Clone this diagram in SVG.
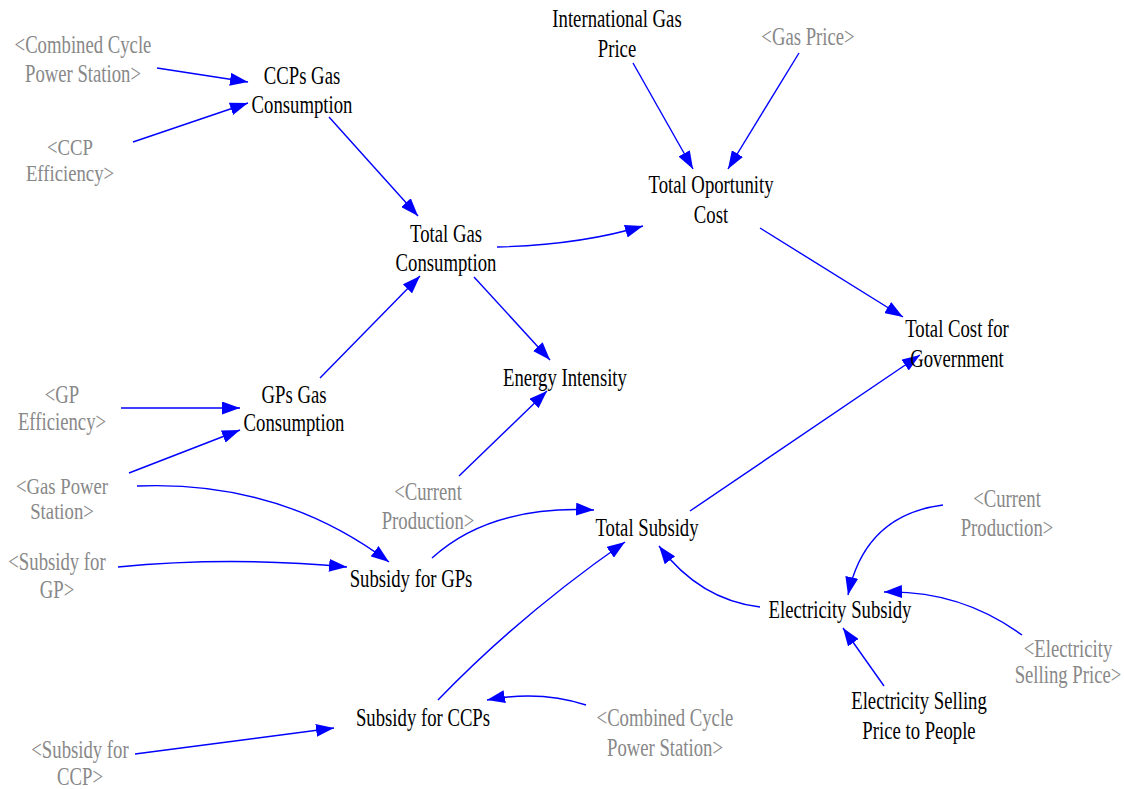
<svg xmlns="http://www.w3.org/2000/svg" width="1124" height="789" viewBox="0 0 1124 789">
  <defs>
    <marker id="arrow" markerUnits="userSpaceOnUse" markerWidth="18" markerHeight="13" refX="18" refY="6.5" orient="auto">
      <path d="M0,0 L18,6.5 L0,13 z" fill="#0000ff"/>
    </marker>
  </defs>
  <style>
    text { font-family: "Liberation Serif", Tinos, "Times New Roman", "DejaVu Serif", "Noto Serif", serif; font-size: 26px; text-anchor: middle; dominant-baseline: central; }
    .tight text { font-size: 24px; }
    .var { fill: #000000; }
    .shadow { fill: #888888; }
    .link { fill: none; stroke: #0000ff; stroke-width: 1.4; marker-end: url(#arrow); }
  </style>
  <rect width="1124" height="789" fill="#ffffff"/>

  <!-- causal links -->
  <g id="connectors">
    <path class="link" d="M157,68 L248,82"/>
    <path class="link" d="M133,142 L248,103"/>
    <path class="link" d="M329,117 L418,216"/>
    <path class="link" d="M633,63 L693,169"/>
    <path class="link" d="M799,53 L728,169"/>
    <path class="link" d="M497,247 Q580,245 643,226"/>
    <path class="link" d="M760,228 L903,317"/>
    <path class="link" d="M474,277 L550,360"/>
    <path class="link" d="M320,378 L420,276"/>
    <path class="link" d="M121,408 L240,408"/>
    <path class="link" d="M129,473 L240,430"/>
    <path class="link" d="M459,476 L547,391"/>
    <path class="link" d="M137,486 Q280,480 389,562"/>
    <path class="link" d="M118,567 Q230,556 347,567"/>
    <path class="link" d="M432,558 Q490,505 594,510"/>
    <path class="link" d="M690,511 L920,355"/>
    <path class="link" d="M438,700 Q520,615 625,542"/>
    <path class="link" d="M760,607 Q700,600 659,546"/>
    <path class="link" d="M943,505 Q865,515 848,595"/>
    <path class="link" d="M1022,635 Q960,590 884,592"/>
    <path class="link" d="M884,686 L843,628"/>
    <path class="link" d="M586,705 Q540,690 487,700"/>
    <path class="link" d="M135,754 L334,728"/>
  </g>

  <!-- labels use a narrow Times face: each node is centred at its x and squeezed horizontally -->
  <!-- shadow variables (grey) -->
  <g id="ccps-station-top" transform="matrix(0.72 0 0 1 83 0)"><text class="shadow" x="0" y="44">&lt;Combined Cycle</text><text class="shadow" x="0" y="73">Power Station&gt;</text></g>
  <g id="ccp-efficiency" class="tight" transform="matrix(0.78 0 0 1 70 0)"><text class="shadow" x="0" y="147">&lt;CCP</text><text class="shadow" x="0" y="173">Efficiency&gt;</text></g>
  <g id="gas-price" transform="matrix(0.72 0 0 1 808 0)"><text class="shadow" x="0" y="36">&lt;Gas Price&gt;</text></g>
  <g id="gp-efficiency" transform="matrix(0.72 0 0 1 62 0)"><text class="shadow" x="0" y="394">&lt;GP</text><text class="shadow" x="0" y="421">Efficiency&gt;</text></g>
  <g id="gas-power-station" class="tight" transform="matrix(0.78 0 0 1 62 0)"><text class="shadow" x="0" y="486">&lt;Gas Power</text><text class="shadow" x="0" y="511">Station&gt;</text></g>
  <g id="current-production-left" transform="matrix(0.72 0 0 1 428 0)"><text class="shadow" x="0" y="491">&lt;Current</text><text class="shadow" x="0" y="520">Production&gt;</text></g>
  <g id="current-production-right" transform="matrix(0.72 0 0 1 1007 0)"><text class="shadow" x="0" y="498">&lt;Current</text><text class="shadow" x="0" y="527">Production&gt;</text></g>
  <g id="subsidy-for-gp" transform="matrix(0.72 0 0 1 57 0)"><text class="shadow" x="0" y="561">&lt;Subsidy for</text><text class="shadow" x="0" y="589">GP&gt;</text></g>
  <g id="electricity-selling-price" transform="matrix(0.72 0 0 1 1068 0)"><text class="shadow" x="0" y="648">&lt;Electricity</text><text class="shadow" x="0" y="674">Selling Price&gt;</text></g>
  <g id="ccps-station-bottom" transform="matrix(0.72 0 0 1 665 0)"><text class="shadow" x="0" y="717">&lt;Combined Cycle</text><text class="shadow" x="0" y="747">Power Station&gt;</text></g>
  <g id="subsidy-for-ccp" transform="matrix(0.72 0 0 1 80 0)"><text class="shadow" x="0" y="749">&lt;Subsidy for</text><text class="shadow" x="0" y="776">CCP&gt;</text></g>

  <!-- model variables -->
  <g id="ccps-gas-consumption" transform="matrix(0.72 0 0 1 302 0)"><text class="var" x="0" y="75">CCPs Gas</text><text class="var" x="0" y="104">Consumption</text></g>
  <g id="international-gas-price" transform="matrix(0.72 0 0 1 617 0)"><text class="var" x="0" y="18">International Gas</text><text class="var" x="0" y="48">Price</text></g>
  <g id="total-oportunity-cost" transform="matrix(0.72 0 0 1 711 0)"><text class="var" x="0" y="184">Total Oportunity</text><text class="var" x="0" y="214">Cost</text></g>
  <g id="total-gas-consumption" transform="matrix(0.72 0 0 1 446 0)"><text class="var" x="0" y="233">Total Gas</text><text class="var" x="0" y="262">Consumption</text></g>
  <g id="total-cost-government" transform="matrix(0.72 0 0 1 957 0)"><text class="var" x="0" y="328">Total Cost for</text><text class="var" x="0" y="358">Government</text></g>
  <g id="energy-intensity" transform="matrix(0.72 0 0 1 565 0)"><text class="var" x="0" y="377">Energy Intensity</text></g>
  <g id="gps-gas-consumption" transform="matrix(0.72 0 0 1 294 0)"><text class="var" x="0" y="394">GPs Gas</text><text class="var" x="0" y="422">Consumption</text></g>
  <g id="total-subsidy" transform="matrix(0.72 0 0 1 647 0)"><text class="var" x="0" y="527">Total Subsidy</text></g>
  <g id="subsidy-for-gps" transform="matrix(0.72 0 0 1 411 0)"><text class="var" x="0" y="578">Subsidy for GPs</text></g>
  <g id="electricity-subsidy" transform="matrix(0.72 0 0 1 840 0)"><text class="var" x="0" y="609">Electricity Subsidy</text></g>
  <g id="electricity-selling-price-people" transform="matrix(0.72 0 0 1 919 0)"><text class="var" x="0" y="700">Electricity Selling</text><text class="var" x="0" y="730">Price to People</text></g>
  <g id="subsidy-for-ccps" transform="matrix(0.72 0 0 1 423 0)"><text class="var" x="0" y="717">Subsidy for CCPs</text></g>
</svg>
